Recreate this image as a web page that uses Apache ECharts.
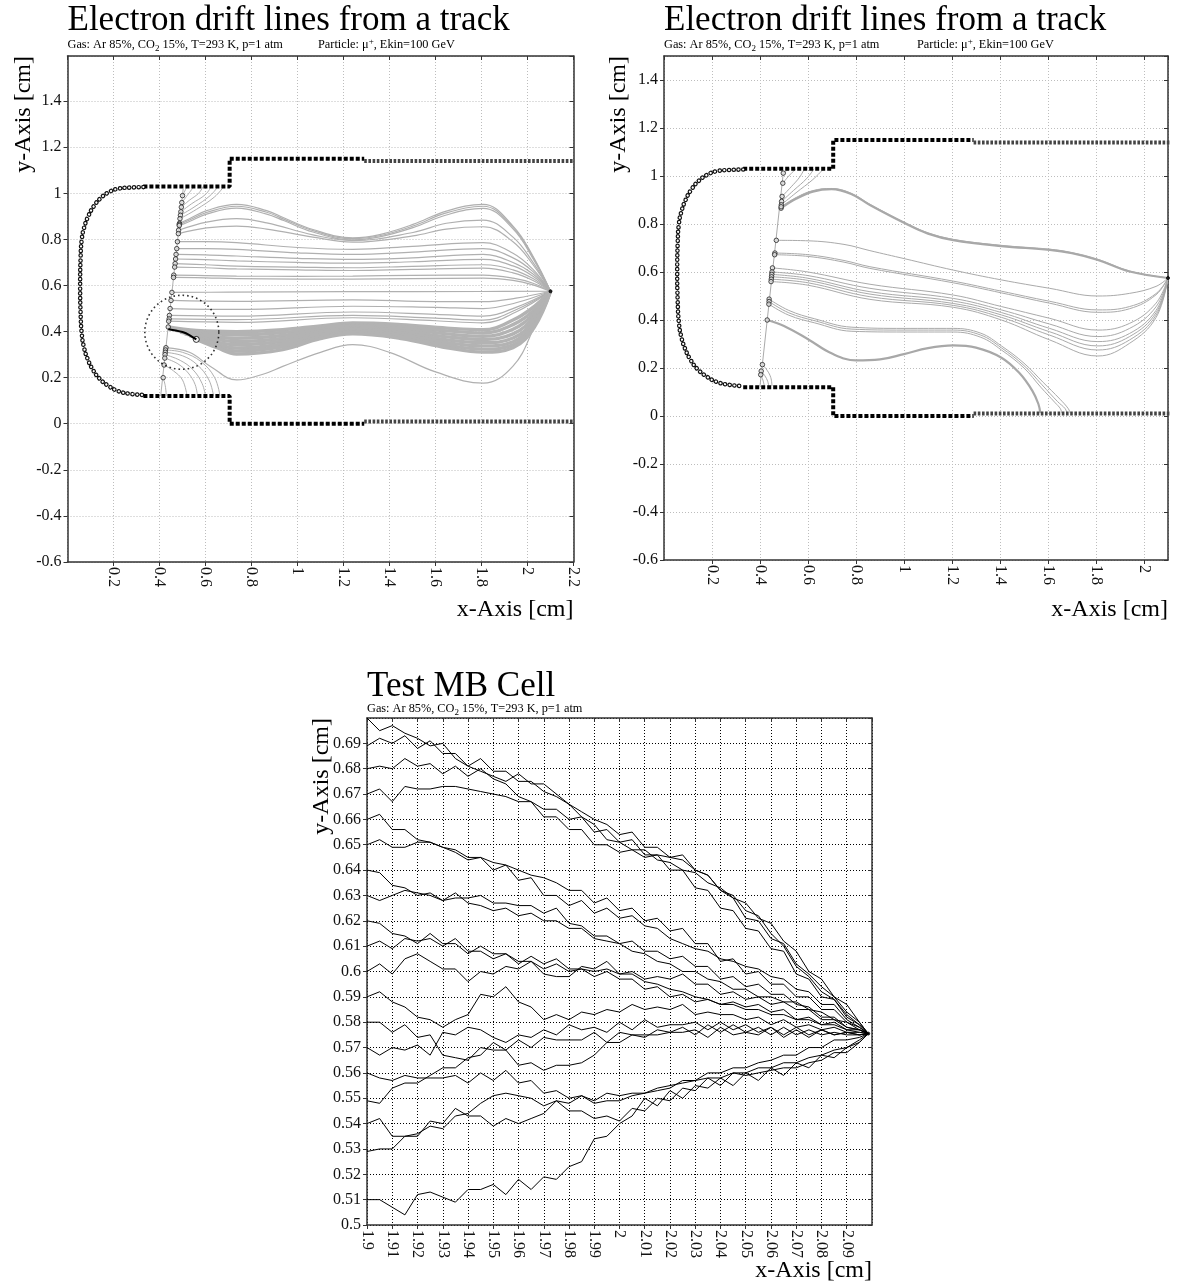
<!DOCTYPE html>
<html>
<head>
<meta charset="utf-8">
<title>Electron drift lines</title>
<script src="https://cdn.jsdelivr.net/npm/echarts@6/dist/echarts.min.js"></script>
<style>
  html, body { margin: 0; padding: 0; background: #fff; }
  #chart { width: 1178px; height: 1285px; }
</style>
</head>
<body>
<div id="chart"></div>
<script>
const serif = '"Liberation Serif", "Times New Roman", serif';

// ---- cell boundary (cm), same cell in both drift-line panels ----
const cathodeArc = [[0.33,1.027],[0.27,1.025],[0.22,1.02],[0.18,1.005],[0.145,0.98],[0.115,0.945],[0.09,0.9],[0.072,0.85],[0.062,0.8],[0.057,0.72],[0.055,0.6],[0.057,0.48],[0.062,0.39],[0.072,0.33],[0.088,0.28],[0.11,0.235],[0.14,0.195],[0.18,0.163],[0.22,0.142],[0.27,0.13],[0.33,0.125]];
const wallTop = [[0.33,1.03],[0.705,1.03],[0.705,1.15],[1.29,1.15]];
const wallBottom = [[0.33,0.12],[0.705,0.12],[0.705,0],[1.29,0]];
const stripTop = [[1.29,1.14],[2.2,1.14]];
const stripBottom = [[1.29,0.01],[2.2,0.01]];
const wire = [2.1, 0.575];

// ---- left panel: drift lines ----
const trackLeft = [[0.405,0.12],[0.503,1.02]];
const leftUpperArcs = [
  [[0.5,0.99],[0.51,1.01],[0.52,1.03]],
  [[0.497,0.96],[0.52,0.99],[0.55,1.03]],
  [[0.495,0.94],[0.53,0.97],[0.57,1.0],[0.59,1.03]],
  [[0.493,0.92],[0.54,0.955],[0.6,0.995],[0.625,1.03]],
  [[0.491,0.905],[0.55,0.94],[0.62,0.99],[0.655,1.03]],
  [[0.489,0.89],[0.56,0.93],[0.64,0.985],[0.68,1.03]]
];
const leftLongLines = [
  [[0.487,0.87],[0.53,0.89],[0.605,0.925],[0.735,0.952],[0.866,0.925],[0.94,0.894],[1.067,0.843],[1.24,0.807],[1.357,0.821],[1.502,0.865],[1.647,0.923],[1.807,0.952],[1.937,0.858],[2.024,0.727],[2.1,0.575]],
  [[0.486,0.865],[0.53,0.884],[0.605,0.917],[0.735,0.944],[0.866,0.918],[0.94,0.888],[1.067,0.838],[1.24,0.803],[1.357,0.816],[1.502,0.858],[1.647,0.915],[1.807,0.944],[1.937,0.852],[2.024,0.722],[2.1,0.575]],
  [[0.486,0.86],[0.53,0.878],[0.605,0.91],[0.735,0.936],[0.866,0.91],[0.94,0.882],[1.067,0.832],[1.24,0.798],[1.357,0.811],[1.502,0.851],[1.647,0.906],[1.807,0.935],[1.937,0.846],[2.024,0.716],[2.1,0.575]],
  [[0.483,0.84],[0.605,0.875],[0.735,0.89],[0.866,0.872],[1.067,0.82],[1.24,0.795],[1.502,0.83],[1.647,0.87],[1.807,0.884],[1.937,0.81],[2.024,0.7],[2.1,0.575]],
  [[0.482,0.825],[0.605,0.85],[0.735,0.858],[0.866,0.845],[1.067,0.81],[1.24,0.788],[1.502,0.815],[1.647,0.845],[1.807,0.855],[1.937,0.79],[2.024,0.69],[2.1,0.575]],
  [[0.478,0.79],[0.6,0.79],[0.735,0.786],[1.0,0.765],[1.24,0.757],[1.5,0.77],[1.807,0.786],[1.937,0.74],[2.024,0.67],[2.1,0.575]],
  [[0.475,0.76],[0.6,0.76],[0.735,0.757],[1.0,0.742],[1.24,0.735],[1.5,0.745],[1.807,0.76],[1.937,0.72],[2.024,0.66],[2.1,0.575]],
  [[0.472,0.735],[0.6,0.733],[0.735,0.728],[1.0,0.718],[1.24,0.713],[1.5,0.72],[1.807,0.735],[1.937,0.7],[2.024,0.65],[2.1,0.575]],
  [[0.47,0.715],[0.6,0.712],[0.735,0.707],[1.0,0.7],[1.24,0.697],[1.5,0.703],[1.807,0.713],[1.937,0.685],[2.024,0.64],[2.1,0.575]],
  [[0.468,0.695],[0.6,0.69],[0.735,0.684],[1.0,0.68],[1.24,0.677],[1.5,0.683],[1.807,0.69],[1.937,0.668],[2.024,0.63],[2.1,0.575]],
  [[0.466,0.68],[0.6,0.677],[0.735,0.672],[1.0,0.668],[1.24,0.665],[1.5,0.67],[1.807,0.675],[1.937,0.655],[2.024,0.622],[2.1,0.575]],
  [[0.462,0.645],[0.6,0.643],[0.735,0.641],[1.0,0.64],[1.24,0.641],[1.5,0.644],[1.807,0.645],[1.937,0.632],[2.024,0.61],[2.1,0.575]],
  [[0.461,0.635],[0.6,0.633],[0.735,0.63],[1.0,0.628],[1.24,0.628],[1.5,0.63],[1.807,0.632],[1.937,0.622],[2.024,0.603],[2.1,0.575]],
  [[0.454,0.57],[0.7,0.571],[1.2,0.573],[1.8,0.574],[2.1,0.575]],
  [[0.45,0.535],[0.735,0.531],[1.24,0.538],[1.6,0.53],[1.807,0.53],[1.95,0.545],[2.1,0.575]],
  [[0.446,0.5],[0.735,0.496],[1.24,0.51],[1.6,0.505],[1.807,0.5],[1.95,0.525],[2.1,0.575]],
  [[0.443,0.47],[0.735,0.467],[1.24,0.485],[1.6,0.475],[1.807,0.467],[1.95,0.505],[2.1,0.575]],
  [[0.442,0.455],[0.735,0.452],[1.24,0.47],[1.6,0.458],[1.807,0.45],[1.95,0.495],[2.1,0.575]],
  [[0.44,0.445],[0.735,0.44],[1.24,0.46],[1.6,0.447],[1.807,0.438],[1.95,0.485],[2.1,0.575]],
  [[0.428,0.33],[0.53,0.31],[0.62,0.25],[0.736,0.19],[0.85,0.215],[0.936,0.249],[1.1,0.31],[1.24,0.343],[1.4,0.31],[1.6,0.225],[1.807,0.176],[1.937,0.25],[2.03,0.42],[2.1,0.575]]
];
const leftBand = [
  [[0.438,0.42],[0.56,0.405],[0.735,0.4],[0.936,0.408],[1.1,0.425],[1.24,0.437],[1.45,0.43],[1.65,0.415],[1.807,0.408],[1.937,0.45],[2.03,0.51],[2.1,0.575]],
  [[0.45,0.413],[0.56,0.398],[0.735,0.386],[0.936,0.396],[1.1,0.418],[1.24,0.43],[1.45,0.42],[1.65,0.403],[1.807,0.394],[1.937,0.43],[2.03,0.495],[2.1,0.575]],
  [[0.47,0.405],[0.56,0.39],[0.735,0.371],[0.936,0.383],[1.1,0.41],[1.24,0.424],[1.45,0.412],[1.65,0.39],[1.807,0.38],[1.937,0.41],[2.03,0.48],[2.1,0.575]],
  [[0.49,0.398],[0.56,0.383],[0.735,0.357],[0.936,0.37],[1.1,0.401],[1.24,0.417],[1.45,0.403],[1.65,0.377],[1.807,0.366],[1.937,0.39],[2.03,0.465],[2.1,0.575]],
  [[0.51,0.39],[0.56,0.378],[0.735,0.343],[0.936,0.358],[1.1,0.393],[1.24,0.41],[1.45,0.394],[1.65,0.364],[1.807,0.352],[1.937,0.372],[2.03,0.45],[2.1,0.575]],
  [[0.53,0.382],[0.58,0.368],[0.735,0.329],[0.936,0.346],[1.1,0.385],[1.24,0.404],[1.45,0.386],[1.65,0.352],[1.807,0.338],[1.937,0.356],[2.03,0.44],[2.1,0.575]],
  [[0.545,0.374],[0.6,0.356],[0.735,0.316],[0.936,0.334],[1.1,0.377],[1.24,0.397],[1.45,0.378],[1.65,0.341],[1.807,0.324],[1.937,0.342],[2.03,0.43],[2.1,0.575]],
  [[0.56,0.366],[0.65,0.33],[0.735,0.303],[0.936,0.322],[1.1,0.37],[1.24,0.39],[1.45,0.37],[1.65,0.33],[1.807,0.311],[1.937,0.33],[2.03,0.42],[2.1,0.575]]
];
const leftLowerArcs = [
  [[0.426,0.32],[0.5,0.31],[0.58,0.27],[0.64,0.2],[0.663,0.12]],
  [[0.425,0.31],[0.5,0.295],[0.565,0.255],[0.615,0.19],[0.635,0.12]],
  [[0.424,0.3],[0.49,0.275],[0.545,0.235],[0.585,0.175],[0.6,0.12]],
  [[0.423,0.285],[0.48,0.26],[0.525,0.22],[0.555,0.17],[0.565,0.12]],
  [[0.42,0.255],[0.46,0.23],[0.5,0.19],[0.52,0.12]],
  [[0.416,0.2],[0.425,0.165],[0.43,0.12]]
];
const trackSegment = [[0.438,0.41],[0.47,0.405],[0.5,0.398],[0.53,0.385],[0.56,0.366]];
const zoomCircle = [0.497, 0.397];

// ---- right panel: drift lines ----
const trackRight = [[0.4,0.125],[0.497,1.012]];
const rightUpperArcs = [
  [[0.497,1.012],[0.51,1.022],[0.525,1.03]],
  [[0.495,0.97],[0.52,1.0],[0.55,1.03]],
  [[0.492,0.915],[0.53,0.955],[0.565,0.995],[0.585,1.03]],
  [[0.49,0.894],[0.54,0.94],[0.595,0.99],[0.625,1.03]],
  [[0.489,0.88],[0.55,0.93],[0.62,0.985],[0.665,1.03]]
];
const rightThick = [
  [[0.488,0.866],[0.55,0.905],[0.62,0.935],[0.698,0.945],[0.78,0.925],[0.858,0.879],[1.004,0.803],[1.1,0.76],[1.205,0.733],[1.406,0.708],[1.607,0.692],[1.7,0.678],[1.808,0.65],[1.94,0.602],[2.1,0.575]],
  [[0.43,0.4],[0.5,0.375],[0.6,0.32],[0.7,0.26],[0.8,0.232],[0.9,0.236],[1.0,0.258],[1.1,0.283],[1.205,0.294],[1.3,0.285],[1.406,0.243],[1.48,0.18],[1.535,0.105],[1.56,0.05],[1.568,0.012]]
];
const rightLines = [
  [[0.488,0.872],[0.55,0.91],[0.62,0.939],[0.698,0.948],[0.78,0.928],[0.858,0.882],[1.004,0.806],[1.1,0.763],[1.205,0.736],[1.406,0.711],[1.607,0.695],[1.7,0.681],[1.808,0.653],[1.94,0.604],[2.1,0.575]],
  [[0.468,0.732],[0.6,0.73],[0.75,0.715],[0.858,0.689],[1.004,0.655],[1.205,0.608],[1.406,0.567],[1.607,0.532],[1.808,0.5],[1.94,0.511],[2.05,0.54],[2.1,0.575]],
  [[0.462,0.679],[0.6,0.672],[0.75,0.648],[0.858,0.622],[1.205,0.562],[1.406,0.52],[1.607,0.478],[1.808,0.442],[1.94,0.456],[2.05,0.51],[2.1,0.575]],
  [[0.461,0.672],[0.6,0.665],[0.75,0.641],[0.858,0.615],[1.205,0.555],[1.406,0.513],[1.607,0.47],[1.808,0.432],[1.94,0.447],[2.05,0.505],[2.1,0.575]],
  [[0.452,0.617],[0.6,0.6],[0.858,0.549],[1.205,0.504],[1.406,0.456],[1.607,0.407],[1.808,0.358],[1.94,0.386],[2.05,0.47],[2.1,0.575]],
  [[0.45,0.6],[0.6,0.585],[0.858,0.532],[1.205,0.49],[1.406,0.442],[1.607,0.383],[1.808,0.331],[1.94,0.365],[2.05,0.455],[2.1,0.575]],
  [[0.449,0.59],[0.6,0.574],[0.858,0.518],[1.205,0.479],[1.406,0.431],[1.607,0.365],[1.808,0.31],[1.94,0.344],[2.05,0.44],[2.1,0.575]],
  [[0.448,0.58],[0.6,0.565],[0.858,0.508],[1.205,0.469],[1.406,0.421],[1.607,0.351],[1.808,0.292],[1.94,0.331],[2.05,0.43],[2.1,0.575]],
  [[0.447,0.57],[0.6,0.555],[0.858,0.497],[1.205,0.461],[1.406,0.411],[1.607,0.337],[1.808,0.275],[1.94,0.317],[2.05,0.42],[2.1,0.575]],
  [[0.446,0.56],[0.6,0.545],[0.858,0.486],[1.205,0.453],[1.406,0.4],[1.607,0.317],[1.808,0.25],[1.94,0.303],[2.05,0.41],[2.1,0.575]],
  [[0.438,0.487],[0.52,0.44],[0.628,0.405],[0.783,0.37],[1.0,0.365],[1.205,0.365],[1.32,0.345],[1.406,0.292],[1.5,0.22],[1.58,0.14],[1.65,0.07],[1.685,0.03],[1.692,0.012]],
  [[0.438,0.477],[0.52,0.43],[0.628,0.397],[0.783,0.362],[1.0,0.358],[1.205,0.358],[1.32,0.337],[1.406,0.284],[1.5,0.21],[1.575,0.13],[1.64,0.06],[1.672,0.03],[1.678,0.012]],
  [[0.437,0.466],[0.52,0.42],[0.628,0.388],[0.783,0.353],[1.0,0.35],[1.205,0.35],[1.32,0.328],[1.406,0.275],[1.5,0.2],[1.57,0.12],[1.63,0.055],[1.652,0.03],[1.657,0.012]],
  [[0.41,0.214],[0.43,0.19],[0.445,0.16],[0.45,0.125]],
  [[0.405,0.187],[0.42,0.168],[0.432,0.145],[0.436,0.125]],
  [[0.403,0.172],[0.412,0.15],[0.418,0.125]]
];

// ---- bottom panel: Monte Carlo drift lines, y in units of 0.001 cm ----
const mbX = [1.900,1.905,1.910,1.915,1.920,1.925,1.930,1.935,1.940,1.945,1.950,1.955,1.960,1.965,1.970,1.975,1.980,1.985,1.990,1.995,2.000,2.005,2.010,2.015,2.020,2.025,2.030,2.035,2.040,2.045,2.050,2.055,2.060,2.065,2.070,2.075,2.080,2.085,2.090,2.095];
const mbWire = [2.0985, 0.5755];
const mbWalks = [
  [700,695,697,694,692,689,690,684,681,679,677,675,678,674,674,670,666,661,658,652,651,648,648,644,643,640,639,635,633,629,627,621,619,612,608,600,597,590,587,580],
  [689,692,690,693,688,691,686,686,681,684,679,679,675,675,671,669,666,663,660,658,654,655,649,649,645,644,640,638,632,629,621,620,613,611,603,599,594,590,584,580],
  [680,681,680,684,681,682,678,681,677,680,676,674,669,667,661,661,656,656,650,650,647,648,645,646,645,646,640,638,632,630,624,622,615,610,602,598,592,589,583,579],
  [670,672,667,673,672,672,673,673,672,671,670,669,667,667,664,664,660,661,655,656,651,652,646,646,640,640,633,632,625,624,617,616,609,608,599,597,590,589,582,579],
  [660,662,656,656,652,651,649,647,644,645,640,642,636,637,630,630,626,628,623,625,621,622,618,617,613,611,609,608,605,604,602,601,598,597,593,592,587,587,581,578],
  [650,652,649,649,651,651,649,648,645,645,643,642,640,638,637,635,632,632,627,629,624,625,620,621,616,617,611,611,604,605,599,600,595,595,590,590,585,585,580,578],
  [640,639,634,633,630,631,628,629,629,630,627,627,626,626,623,625,619,618,614,614,611,612,608,608,605,606,602,602,597,598,594,595,591,591,587,586,582,582,578,577],
  [630,628,630,632,631,630,628,631,627,626,624,625,622,623,620,620,617,617,613,612,611,608,607,604,603,600,600,597,596,593,593,590,590,588,588,585,584,581,580,577],
  [620,619,615,614,611,615,611,611,607,610,607,607,604,604,601,603,600,601,600,601,599,600,597,598,597,599,595,595,591,592,589,590,587,588,585,585,581,581,578,577],
  [610,612,609,613,612,613,610,613,608,608,605,607,603,606,603,605,601,601,598,600,597,597,593,594,590,591,588,589,587,588,586,587,584,585,581,582,579,580,577,577],
  [600,603,599,605,607,604,601,601,596,600,599,602,601,604,599,598,598,602,601,604,599,599,596,595,593,592,590,589,587,587,585,585,583,583,581,581,579,579,577,576],
  [590,592,588,586,582,581,578,581,583,591,590,594,588,586,581,583,581,584,583,585,584,587,585,586,585,587,583,584,583,583,581,582,579,581,578,579,577,578,576,576],
  [580,580,576,579,574,575,567,566,565,570,569,569,563,564,561,563,563,564,567,572,572,575,574,577,576,578,575,579,576,579,576,578,575,578,575,577,575,576,575,575],
  [570,567,570,569,571,567,576,575,578,577,574,572,575,574,577,575,579,577,578,576,580,577,581,578,579,579,580,577,580,577,579,576,578,575,578,575,577,575,576,575],
  [560,558,557,559,558,558,558,559,556,560,557,561,556,557,552,553,550,551,548,549,549,551,552,553,554,557,557,560,560,562,562,564,565,567,567,570,570,573,573,574],
  [549,548,554,556,556,559,562,562,566,567,572,569,573,570,574,573,573,573,576,572,576,575,575,575,576,576,577,574,578,575,576,575,578,574,577,574,577,575,576,575],
  [540,542,535,535,536,539,538,543,544,548,551,552,551,550,547,549,548,551,549,552,551,552,552,554,555,556,557,558,558,560,560,562,562,564,564,566,567,569,570,573],
  [529,530,530,535,535,541,540,546,543,543,539,542,540,542,544,549,545,545,542,543,541,546,545,550,549,554,553,558,555,560,559,560,561,562,562,564,565,568,568,572],
  [510,510,507,504,512,513,511,509,514,514,516,512,518,514,519,518,523,525,534,535,540,543,550,547,553,550,555,554,558,555,560,557,562,559,564,562,567,566,570,572]
];

// ---- helpers ----
function lineSeries(g, data, lineStyle, z, smooth) {
  return { type: 'line', xAxisIndex: g * 2, yAxisIndex: g * 2, data: data, smooth: smooth || false,
    showSymbol: false, silent: true, animation: false, lineStyle: lineStyle, z: z };
}
function cellSeries(g) {
  const squares = { color: '#000', width: 4, type: [4, 2] };
  const crosses = { color: '#444', width: 4, type: [2.6, 1.6] };
  return [
    lineSeries(g, cathodeArc, { color: '#111', width: 4.6, type: [0.1, 4.6], cap: 'round' }, 5, 0.5),
    lineSeries(g, cathodeArc, { color: '#fff', width: 2.2, type: [0.1, 4.6], cap: 'round' }, 6, 0.5),
    lineSeries(g, wallTop, squares, 5),
    lineSeries(g, wallBottom, squares, 5),
    lineSeries(g, stripTop, crosses, 5),
    lineSeries(g, stripBottom, crosses, 5)
  ];
}
function driftSeries(g, lines, color, width) {
  return lines.map(function (pts) { return lineSeries(g, pts, { color: color, width: width }, 2, 0.4); });
}
function dots(g, data, size, fill, border) {
  return { type: 'scatter', xAxisIndex: g * 2, yAxisIndex: g * 2, data: data, symbol: 'circle', symbolSize: size,
    silent: true, animation: false, z: 7, itemStyle: { color: fill, borderColor: border, borderWidth: 1 } };
}
const firstPoints = function (lines) { return lines.map(function (l) { return l[0]; }); };

function mainAxis(g, pos, min, max, step, showMin, showMax, grid) {
  const isX = pos === 'bottom';
  return {
    type: 'value', gridIndex: g, position: pos, min: min, max: max, interval: step,
    axisLine: { show: true, onZero: false, lineStyle: { color: '#333', width: 1.5 } },
    axisTick: { show: true, inside: false, length: 4, lineStyle: { color: '#333', width: 1 } },
    axisLabel: { show: true, rotate: isX ? -90 : 0, margin: isX ? 5 : 6, fontFamily: serif, fontSize: 16,
      color: '#111', showMinLabel: showMin, showMaxLabel: showMax },
    splitLine: { show: true, lineStyle: { color: grid[0], width: 1, type: grid[1] } }
  };
}
function frameAxis(g, pos, min, max, step) {
  return {
    type: 'value', gridIndex: g, position: pos, min: min, max: max, interval: step,
    axisLine: { show: true, onZero: false, lineStyle: { color: '#333', width: 1.5 } },
    axisTick: { show: true, inside: true, length: 4, lineStyle: { color: '#333', width: 1 } },
    axisLabel: { show: false }, splitLine: { show: false }
  };
}
const lightGrid = ['#bdbdbd', [1, 2]];
const darkGrid = ['#000', [1, 2]];

function text(x, y, str, size, extra) {
  return { type: 'text', x: x, y: y, silent: true,
    style: Object.assign({ text: str, fontFamily: serif, fontSize: size, fill: '#000' }, extra || {}) };
}
const rich = {
  sub: { fontSize: 9, lineHeight: 9, verticalAlign: 'bottom', fontFamily: serif },
  sup: { fontSize: 9, lineHeight: 9, verticalAlign: 'top', fontFamily: serif }
};
const gasText = 'Gas: Ar 85%, CO{sub|2} 15%, T=293 K, p=1 atm';
const particleText = 'Particle: \u03bc{sup|+}, Ekin=100 GeV';
function subtitle(x, y, str) {
  return text(x, y, str, 12.3, { verticalAlign: 'middle', lineHeight: 16, rich: rich });
}
function yName(x, y) {
  return { type: 'text', x: x, y: y, rotation: Math.PI / 2, silent: true,
    style: { text: 'y-Axis [cm]', fontFamily: serif, fontSize: 24, fill: '#000', align: 'right', verticalAlign: 'middle' } };
}
function xName(x, y) {
  return text(x, y, 'x-Axis [cm]', 24, { align: 'right', verticalAlign: 'middle' });
}

const chart = echarts.init(document.getElementById('chart'));
const series = [].concat(
  // left panel
  driftSeries(0, leftUpperArcs, '#b0b0b0', 1),
  driftSeries(0, leftLongLines, '#b0b0b0', 1.2),
  driftSeries(0, leftBand, '#b3b3b3', 3.4),
  driftSeries(0, leftLowerArcs, '#b0b0b0', 1),
  [lineSeries(0, trackLeft, { color: '#b0b0b0', width: 1 }, 2)],
  cellSeries(0),
  [dots(0, firstPoints(leftUpperArcs).concat(firstPoints(leftLongLines), firstPoints(leftLowerArcs), [leftBand[0][0]]), 4.5, '#ddd', '#222')],
  [lineSeries(0, trackSegment, { color: '#000', width: 2 }, 8, 0.3)],
  [dots(0, [trackSegment[trackSegment.length - 1]], 6, '#fff', '#000')],
  [{ type: 'scatter', xAxisIndex: 0, yAxisIndex: 0, data: [zoomCircle], symbol: 'circle', symbolSize: 74, silent: true,
     animation: false, z: 8, itemStyle: { color: 'rgba(0,0,0,0)', borderColor: '#000', borderWidth: 1.6, borderType: [1.6, 3] } }],
  [dots(0, [wire], 3, '#000', '#000')],
  // right panel
  driftSeries(1, rightUpperArcs, '#aaaaaa', 1),
  driftSeries(1, rightThick, '#a8a8a8', 2.2),
  driftSeries(1, rightLines, '#aaaaaa', 1),
  [lineSeries(1, trackRight, { color: '#aaaaaa', width: 1 }, 2)],
  cellSeries(1),
  [dots(1, firstPoints(rightUpperArcs).concat(firstPoints(rightThick), firstPoints(rightLines)), 4.5, '#ddd', '#222')],
  [dots(1, [wire], 3, '#000', '#000')],
  // bottom panel
  mbWalks.map(function (w) {
    const pts = w.map(function (v, i) { return [mbX[i], v / 1000]; }).filter(function (p) { return p[0] !== undefined; });
    pts.push(mbWire);
    return lineSeries(2, pts, { color: '#000', width: 1 }, 3);
  }),
  [dots(2, [mbWire], 3, '#000', '#000')]
);

chart.setOption({
  animation: false,
  backgroundColor: '#fff',
  grid: [
    { left: 67.5, top: 56, width: 506, height: 506 },
    { left: 664, top: 56, width: 504, height: 504 },
    { left: 367, top: 718, width: 505, height: 507 }
  ],
  xAxis: [
    mainAxis(0, 'bottom', 0, 2.2, 0.2, false, true, lightGrid),
    frameAxis(0, 'top', 0, 2.2, 0.2),
    mainAxis(1, 'bottom', 0, 2.1, 0.2, false, false, lightGrid),
    frameAxis(1, 'top', 0, 2.1, 0.2),
    mainAxis(2, 'bottom', 1.9, 2.1, 0.01, true, false, darkGrid),
    frameAxis(2, 'top', 1.9, 2.1, 0.01)
  ],
  yAxis: [
    mainAxis(0, 'left', -0.6, 1.596, 0.2, true, false, lightGrid),
    frameAxis(0, 'right', -0.6, 1.596, 0.2),
    mainAxis(1, 'left', -0.6, 1.5, 0.2, true, false, lightGrid),
    frameAxis(1, 'right', -0.6, 1.5, 0.2),
    mainAxis(2, 'left', 0.5, 0.7, 0.01, true, false, darkGrid),
    frameAxis(2, 'right', 0.5, 0.7, 0.01)
  ],
  graphic: [
    text(67.5, 38, 'Electron drift lines from a track', 35, { verticalAlign: 'bottom' }),
    subtitle(67.5, 45, gasText),
    subtitle(318, 45, particleText),
    yName(24, 56),
    xName(573.5, 610),
    text(664, 38, 'Electron drift lines from a track', 35, { verticalAlign: 'bottom' }),
    subtitle(664, 45, gasText),
    subtitle(917, 45, particleText),
    yName(619, 56),
    xName(1168, 610),
    text(367, 704, 'Test MB Cell', 35, { verticalAlign: 'bottom' }),
    subtitle(367, 709, gasText),
    yName(322, 718),
    xName(872, 1271)
  ],
  series: series
});
</script>
</body>
</html>
